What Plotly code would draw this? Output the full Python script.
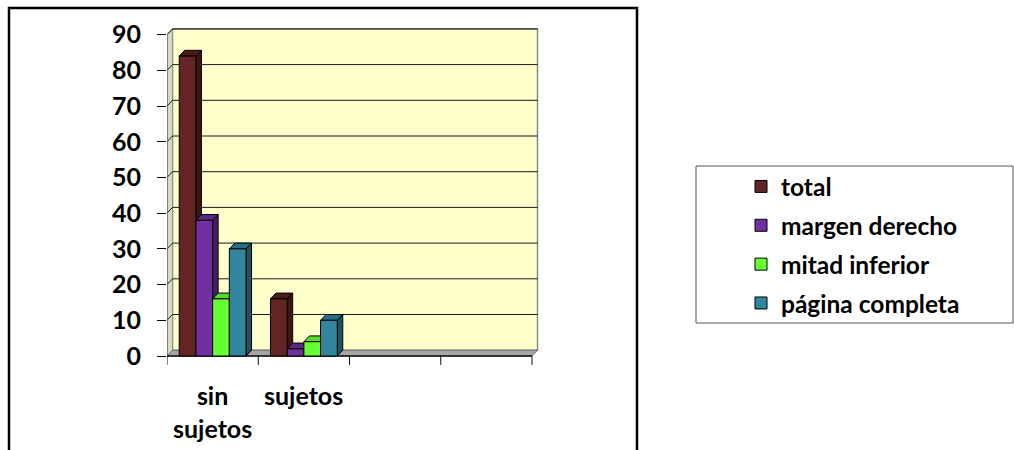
import plotly.graph_objects as go

# Chart data
categories = ["sin<br>sujetos", "sujetos", "", ""]
series_names = ["total", "margen derecho", "mitad inferior", "página completa"]
total = [84, 16]
margen_derecho = [38, 2]
mitad_inferior = [16, 4]
pagina_completa = [30, 10]
y_ticks = [0, 10, 20, 30, 40, 50, 60, 70, 80, 90]

series_values = [total, margen_derecho, mitad_inferior, pagina_completa]
front_colors = ["#632523", "#7030A0", "#66FF33", "#31859C"]
side_colors = ["#3D1513", "#471E66", "#3FAE1E", "#1D5261"]
top_colors = ["#4C1C1A", "#5A2785", "#55D92A", "#286E82"]

# Plot-area geometry (pixels) used to size the 3-D depth in data units
W, H = 1014, 450
L, R, T, B = 167, 545, 25, 375
PX_X = 91.25          # pixels per category
PX_Y = 3.57           # pixels per value unit
Y0 = 356              # pixel row of value 0
x_range = [0, (R - L) / PX_X]
y_range = [-(B - Y0) / PX_Y, (Y0 - T) / PX_Y]
DX = 5.5 / PX_X       # depth offset, x
DY = 5.8 / PX_Y       # depth offset, y
N_CAT = len(categories)
YMAX = max(y_ticks)

GROUP_START = 0.134
BAR_W = 0.183


def px_to_paper_x(px):
    return (px - L) / (R - L)


def px_to_paper_y(py):
    return (B - py) / (B - T)


shapes = []

# back wall
shapes.append(dict(type="rect", xref="x", yref="y", layer="below",
                   x0=DX, x1=N_CAT + DX, y0=DY, y1=YMAX + DY,
                   fillcolor="#FFFFCC", line=dict(color="#8C8C8C", width=1.5)))
# left side wall
shapes.append(dict(type="path", xref="x", yref="y", layer="below",
                   path=f"M 0,0 L {DX},{DY} L {DX},{YMAX + DY} L 0,{YMAX} Z",
                   fillcolor="#DADAC4", line=dict(color="#8C8C8C", width=1)))
# floor
shapes.append(dict(type="path", xref="x", yref="y", layer="below",
                   path=f"M 0,0 L {N_CAT},0 L {N_CAT + DX},{DY} L {DX},{DY} Z",
                   fillcolor="#A6A6A6", line=dict(color="#6E6E6E", width=1)))
# gridlines on back wall and side wall
for v in y_ticks[1:]:
    shapes.append(dict(type="line", xref="x", yref="y", layer="below",
                       x0=DX, x1=N_CAT + DX, y0=v + DY, y1=v + DY,
                       line=dict(color="#1A1A1A", width=1)))
    shapes.append(dict(type="line", xref="x", yref="y", layer="below",
                       x0=0, x1=DX, y0=v, y1=v + DY,
                       line=dict(color="#1A1A1A", width=1)))
# front edge of floor and front edge of side wall
shapes.append(dict(type="line", xref="x", yref="y", layer="below",
                   x0=0, x1=N_CAT, y0=0, y1=0, line=dict(color="#111111", width=1.5)))
shapes.append(dict(type="line", xref="x", yref="y", layer="below",
                   x0=0, x1=0, y0=0, y1=YMAX, line=dict(color="#555555", width=1)))
# category tick marks
for c in range(N_CAT + 1):
    shapes.append(dict(type="line", xref="x", yref="y", layer="below",
                       x0=c, x1=c, y0=0, y1=-2.5,
                       line=dict(color="#111111", width=1)))

# bar side and top faces
bar_x = []
for i, vals in enumerate(series_values):
    xs = []
    for c, v in enumerate(vals):
        xl = c + GROUP_START + BAR_W * i
        xr = xl + BAR_W
        xs.append(xl + BAR_W / 2)
        shapes.append(dict(type="path", xref="x", yref="y", layer="below",
                           path=f"M {xr},0 L {xr + DX},{DY} L {xr + DX},{v + DY} L {xr},{v} Z",
                           fillcolor=side_colors[i], line=dict(color="#000000", width=1)))
        shapes.append(dict(type="path", xref="x", yref="y", layer="below",
                           path=f"M {xl},{v} L {xl + DX},{v + DY} L {xr + DX},{v + DY} L {xr},{v} Z",
                           fillcolor=top_colors[i], line=dict(color="#000000", width=1)))
    bar_x.append(xs)

# outer chart border
shapes.append(dict(type="rect", xref="paper", yref="paper",
                   x0=px_to_paper_x(9), x1=px_to_paper_x(637),
                   y0=px_to_paper_y(470), y1=px_to_paper_y(8),
                   line=dict(color="#000000", width=2.5)))
# legend box
shapes.append(dict(type="rect", xref="paper", yref="paper",
                   x0=px_to_paper_x(696), x1=px_to_paper_x(1013),
                   y0=px_to_paper_y(323), y1=px_to_paper_y(166),
                   line=dict(color="#555555", width=1)))

fig = go.Figure()
for i, name in enumerate(series_names):
    fig.add_trace(go.Bar(
        x=bar_x[i], y=series_values[i], width=BAR_W, name=name,
        legendgroup=name,
        marker=dict(color=front_colors[i], line=dict(color="#000000", width=1)),
    ))

font_family = "Lato"
annotations = []
for c, label in enumerate(categories):
    if label:
        annotations.append(dict(x=(c + 0.5) / x_range[1], y=px_to_paper_y(378),
                                xref="paper", yref="paper",
                                xanchor="center", yanchor="top", align="center",
                                text=label, showarrow=False,
                                font=dict(family=font_family, size=25, color="#000000", weight=700)))

fig.update_layout(
    width=W, height=H,
    margin=dict(l=L, r=W - R, t=T, b=H - B, autoexpand=False),
    template="none",
    paper_bgcolor="#FFFFFF", plot_bgcolor="#FFFFFF",
    barmode="overlay",
    showlegend=True,
    legend=dict(x=px_to_paper_x(741), y=px_to_paper_y(164), xanchor="left", yanchor="top",
                traceorder="grouped", tracegroupgap=4,
                font=dict(family=font_family, size=24.5, color="#000000", weight=700),
                bgcolor="rgba(0,0,0,0)", borderwidth=0),
    xaxis=dict(range=x_range, showgrid=False, zeroline=False, showline=False,
               showticklabels=False, ticks="", automargin=False, fixedrange=True),
    yaxis=dict(range=y_range, tickvals=y_ticks, showgrid=False, zeroline=False,
               showline=False, ticks="outside", ticklen=9, tickcolor="#000000",
               tickwidth=1, ticklabelstandoff=11, automargin=False,
               tickfont=dict(family=font_family, size=25, color="#000000", weight=700)),
    shapes=shapes,
    annotations=annotations,
)

fig.write_html("out.html")
